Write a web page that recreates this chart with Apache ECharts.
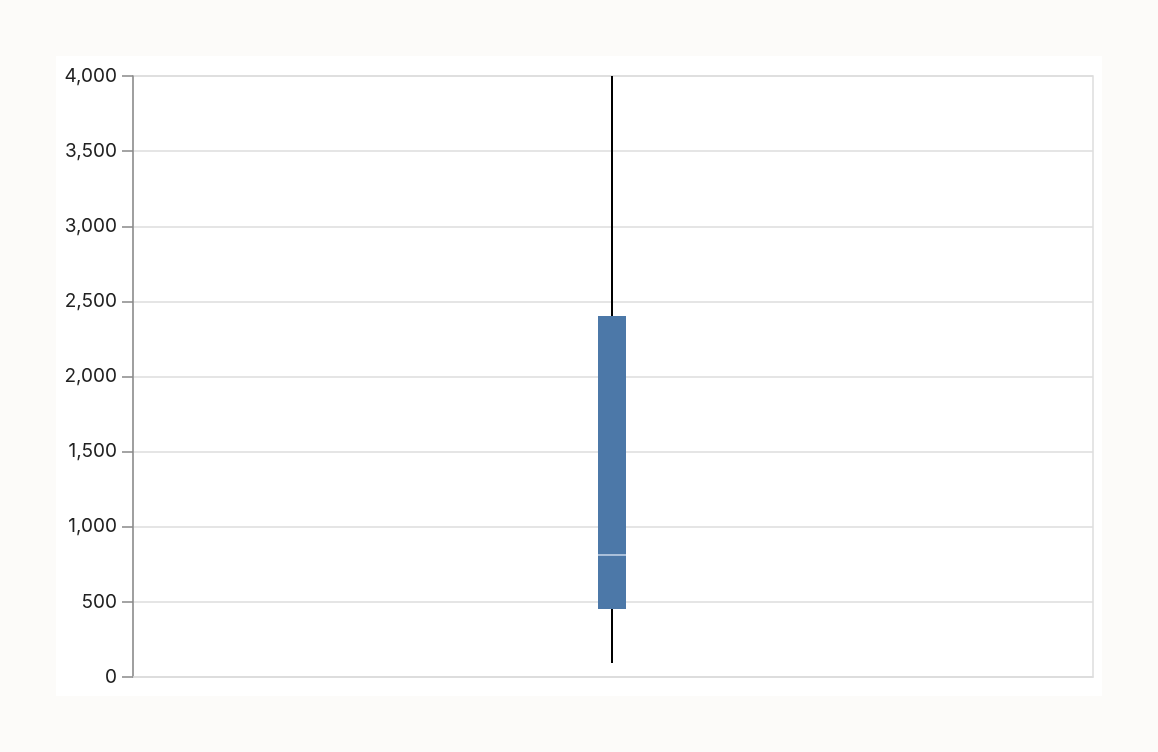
<!DOCTYPE html>
<html>
<head>
<meta charset="utf-8">
<script src="https://cdn.jsdelivr.net/npm/echarts@6/dist/echarts.min.js"></script>
<style>
  html, body { margin: 0; padding: 0; background: #fcfbf9; width: 1158px; height: 752px; overflow: hidden; }
  #panel { position: absolute; left: 56px; top: 56px; width: 1046px; height: 640px; background: #ffffff; }
  #chart { width: 1046px; height: 640px; }
</style>
</head>
<body>
<div id="panel"><div id="chart"></div></div>
<script>
// Data
const categories = ['value'];
const boxMin = [93];
const boxQ1 = [452];
const boxMedian = [812];
const boxQ3 = [2403];
const boxMax = [4000];
const yTicks = [0, 500, 1000, 1500, 2000, 2500, 3000, 3500, 4000];

const seriesData = categories.map((c, i) => [i, boxMin[i], boxQ1[i], boxMedian[i], boxQ3[i], boxMax[i]]);

const chart = echarts.init(document.getElementById('chart'));
chart.setOption({
  animation: false,
  backgroundColor: 'transparent',
  grid: {
    left: 77, top: 20, width: 960, height: 601,
    show: true, borderColor: '#dddddd', borderWidth: 1.5, backgroundColor: 'transparent'
  },
  xAxis: {
    type: 'category',
    data: categories,
    axisLine: { show: true, lineStyle: { color: '#dddddd', width: 1.5 } },
    axisTick: { show: false },
    axisLabel: { show: false },
    splitLine: { show: false }
  },
  yAxis: {
    type: 'value',
    min: yTicks[0],
    max: yTicks[yTicks.length - 1],
    interval: 500,
    axisLine: { show: true, lineStyle: { color: '#888888', width: 1.5 } },
    axisTick: { show: true, length: 11, lineStyle: { color: '#888888', width: 1.5 } },
    axisLabel: {
      color: '#222222', fontSize: 19, fontFamily: 'Inter, "Noto Sans", sans-serif', margin: 16,
      formatter: v => v.toLocaleString('en-US')
    },
    splitLine: { show: true, lineStyle: { color: '#dddddd', width: 1.5 } }
  },
  series: [{
    type: 'custom',
    data: seriesData,
    encode: { x: 0, y: [1, 2, 3, 4, 5] },
    renderItem: function (params, api) {
      const x = api.value(0);
      const pMin = api.coord([x, api.value(1)]);
      const pQ1 = api.coord([x, api.value(2)]);
      const pMed = api.coord([x, api.value(3)]);
      const pQ3 = api.coord([x, api.value(4)]);
      const pMax = api.coord([x, api.value(5)]);
      const w = 28;
      const cx = pMed[0] - 1;
      return {
        type: 'group',
        children: [
          { type: 'line', shape: { x1: cx, y1: pMin[1], x2: cx, y2: pMax[1] },
            style: { stroke: '#000000', lineWidth: 2 } },
          { type: 'rect', shape: { x: cx - w / 2, y: pQ3[1], width: w, height: pQ1[1] - pQ3[1] },
            style: { fill: '#4c78a8' } },
          { type: 'line', shape: { x1: cx - w / 2, y1: pMed[1], x2: cx + w / 2, y2: pMed[1] },
            style: { stroke: '#c9d7ea', lineWidth: 1.5 } }
        ]
      };
    }
  }]
});
</script>
</body>
</html>
